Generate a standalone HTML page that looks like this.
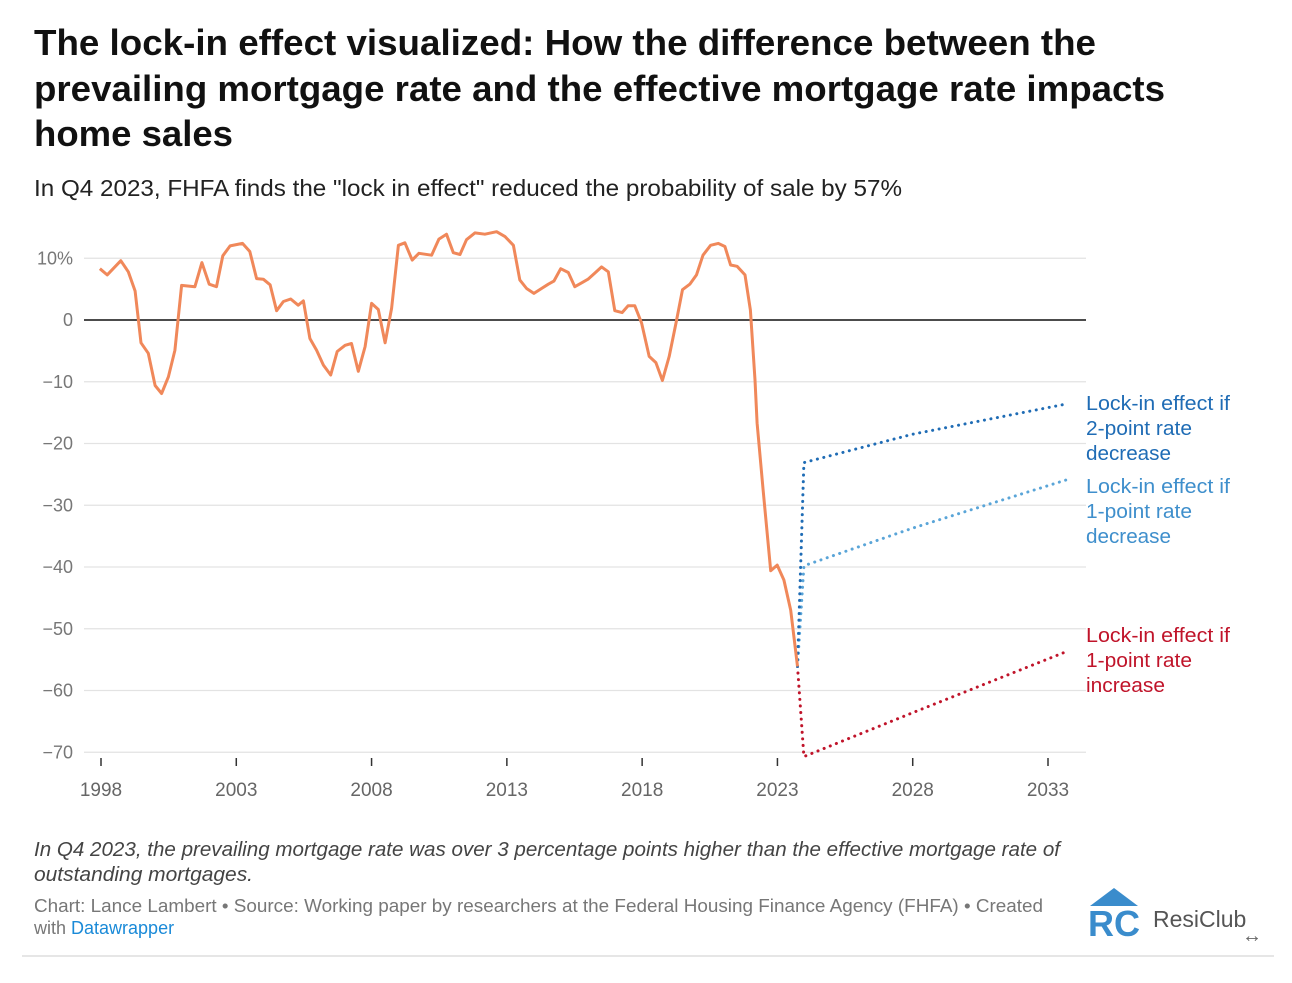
<!DOCTYPE html>
<html><head><meta charset="utf-8">
<style>
body{margin:0;background:#fff;width:1292px;height:978px;overflow:hidden;font-family:"Liberation Sans",sans-serif;}
</style></head>
<body>
<svg id="chart" width="1292" height="978" xmlns="http://www.w3.org/2000/svg" font-family="Liberation Sans, sans-serif">
<g font-size="36" font-weight="bold" fill="#111">
<text x="34" y="55" textLength="1062" lengthAdjust="spacingAndGlyphs">The lock-in effect visualized: How the difference between the</text>
<text x="34" y="101" textLength="1131" lengthAdjust="spacingAndGlyphs">prevailing mortgage rate and the effective mortgage rate impacts</text>
<text x="34" y="146" textLength="199" lengthAdjust="spacingAndGlyphs">home sales</text>
</g>
<text x="34" y="196" font-size="23" fill="#222" textLength="868" lengthAdjust="spacingAndGlyphs">In Q4 2023, FHFA finds the "lock in effect" reduced the probability of sale by 57%</text>
<g id="grid"></g><g id="axes"></g><g id="marks"></g>
<g font-size="20">
<text x="1086" y="410" fill="#1f6cb5" textLength="144" lengthAdjust="spacingAndGlyphs">Lock-in effect if</text><text x="1086" y="435" fill="#1f6cb5" textLength="106" lengthAdjust="spacingAndGlyphs">2-point rate</text><text x="1086" y="460" fill="#1f6cb5" textLength="85" lengthAdjust="spacingAndGlyphs">decrease</text>
<text x="1086" y="493" fill="#3f8fcc" textLength="144" lengthAdjust="spacingAndGlyphs">Lock-in effect if</text><text x="1086" y="518" fill="#3f8fcc" textLength="106" lengthAdjust="spacingAndGlyphs">1-point rate</text><text x="1086" y="543" fill="#3f8fcc" textLength="85" lengthAdjust="spacingAndGlyphs">decrease</text>
<text x="1086" y="642" fill="#c0142a" textLength="144" lengthAdjust="spacingAndGlyphs">Lock-in effect if</text><text x="1086" y="667" fill="#c0142a" textLength="106" lengthAdjust="spacingAndGlyphs">1-point rate</text><text x="1086" y="692" fill="#c0142a" textLength="79" lengthAdjust="spacingAndGlyphs">increase</text>
</g>
<g font-size="20" font-style="italic" fill="#444">
<text x="34" y="856" textLength="1026" lengthAdjust="spacingAndGlyphs">In Q4 2023, the prevailing mortgage rate was over 3 percentage points higher than the effective mortgage rate of</text>
<text x="34" y="881" textLength="219" lengthAdjust="spacingAndGlyphs">outstanding mortgages.</text>
</g>
<g font-size="18" fill="#777">
<text x="34" y="912" textLength="1009" lengthAdjust="spacingAndGlyphs">Chart: Lance Lambert • Source: Working paper by researchers at the Federal Housing Finance Agency (FHFA) • Created</text>
<text x="34" y="934">with <tspan fill="#1a8ad8">Datawrapper</tspan></text>
</g>
<g>
<polygon points="1090,906 1114,888 1138,906" fill="#3a8ccc"/>
<text x="1088" y="936" font-size="36" font-weight="bold" fill="#3a8ccc">RC</text>
<text x="1153" y="927" font-size="23" fill="#555">ResiClub</text>
<text x="1242" y="942" font-size="20" fill="#666">↔</text>
</g>
<line x1="22" y1="956" x2="1274" y2="956" stroke="#ddd" stroke-width="1.5"/>
</svg>
<script>
const years=[1997.96,1998.23,1998.73,1999.01,1999.26,1999.48,1999.75,2000.0,2000.24,2000.49,2000.73,2000.98,2001.47,2001.73,2002.0,2002.27,2002.5,2002.77,2003.23,2003.5,2003.75,2004.0,2004.25,2004.49,2004.74,2005.01,2005.29,2005.48,2005.72,2005.97,2006.22,2006.49,2006.73,2007.02,2007.26,2007.51,2007.76,2008.0,2008.25,2008.5,2008.74,2008.99,2009.23,2009.5,2009.75,2010.22,2010.49,2010.77,2011.02,2011.27,2011.51,2011.82,2012.19,2012.62,2012.93,2013.24,2013.48,2013.73,2014.0,2014.28,2014.53,2014.74,2014.99,2015.27,2015.51,2015.76,2016.0,2016.25,2016.5,2016.75,2016.99,2017.26,2017.48,2017.73,2017.98,2018.26,2018.51,2018.75,2019.0,2019.25,2019.49,2019.76,2020.01,2020.25,2020.53,2020.81,2021.06,2021.27,2021.51,2021.8,2022.0,2022.17,2022.25,2022.47,2022.75,2022.99,2023.24,2023.49,2023.74];
const lockIn=[8.3,7.3,9.6,7.8,4.7,-3.7,-5.4,-10.6,-11.9,-9.2,-4.9,5.6,5.4,9.3,5.8,5.4,10.4,12.0,12.4,11.1,6.7,6.6,5.7,1.5,3.0,3.4,2.4,3.1,-3.0,-4.9,-7.3,-8.9,-5.1,-4.1,-3.8,-8.3,-4.3,2.7,1.7,-3.7,1.9,12.1,12.5,9.7,10.8,10.5,13.1,13.9,10.9,10.6,13.0,14.1,13.9,14.3,13.5,12.1,6.5,5.1,4.3,5.1,5.8,6.3,8.3,7.7,5.4,6.0,6.6,7.6,8.6,7.8,1.5,1.2,2.3,2.3,-0.5,-5.9,-6.9,-9.8,-5.9,-0.5,4.9,5.8,7.3,10.5,12.1,12.4,11.9,8.9,8.7,7.3,1.6,-9.7,-16.7,-27.5,-40.6,-39.7,-42.1,-47.0,-56.1];
const projYears=[2023.74,2023.98,2028,2033.68];
const proj2Down=[-56.1,-23.1,-18.5,-13.6];
const proj1Down=[-56.1,-39.8,-33.7,-25.9];
const proj1Up=[-56.1,-70.7,-63.6,-53.7];
const yTicks=[10,0,-10,-20,-30,-40,-50,-60,-70];
const yTickLabels=["10%","0","−10","−20","−30","−40","−50","−60","−70"];
const xTicks=[1998,2003,2008,2013,2018,2023,2028,2033];

const NS="http://www.w3.org/2000/svg";
const X=y=>101+(y-1998)*(947/35);
const Y=v=>320-v*6.175;
function mk(tag,attrs,parent){const e=document.createElementNS(NS,tag);for(const k in attrs)e.setAttribute(k,attrs[k]);document.getElementById(parent).appendChild(e);return e;}
yTicks.forEach((t,i)=>{
  const l=mk('line',{x1:84,x2:1086,y1:Y(t),y2:Y(t),stroke:t===0?'#111':'#e3e3e3','stroke-width':t===0?1.6:1.2},'grid');
  
  
  const tx=mk('text',{x:73,y:Y(t)+6,'text-anchor':'end','font-size':18,fill:'#777'},'axes');
  tx.textContent=yTickLabels[i];
  
  
});
xTicks.forEach(t=>{
  const l=mk('line',{x1:X(t),x2:X(t),y1:758,y2:766,stroke:'#333','stroke-width':1.5},'axes');
  
  
  const tx=mk('text',{x:X(t),y:796,'text-anchor':'middle','font-size':19,fill:'#666'},'axes');
  tx.textContent=t;
  
  
});
function path(xs,vs){return xs.map((x,i)=>(i?'L':'M')+X(x).toFixed(1)+','+Y(vs[i]).toFixed(1)).join(' ');}
const red=mk('path',{d:path(projYears,proj1Up),fill:'none',stroke:'#c0142a','stroke-width':3,'stroke-dasharray':'0.1 6.5','stroke-linecap':'round'},'marks');


const lb=mk('path',{d:path(projYears,proj1Down),fill:'none',stroke:'#5aa5d8','stroke-width':3,'stroke-dasharray':'0.1 6.5','stroke-linecap':'round'},'marks');


const db=mk('path',{d:path(projYears,proj2Down),fill:'none',stroke:'#1f6cb5','stroke-width':3,'stroke-dasharray':'0.1 6.5','stroke-linecap':'round'},'marks');


const main=mk('path',{d:path(years,lockIn),fill:'none',stroke:'#f0885a','stroke-width':3,'stroke-linejoin':'round'},'marks');


</script>
</body></html>
